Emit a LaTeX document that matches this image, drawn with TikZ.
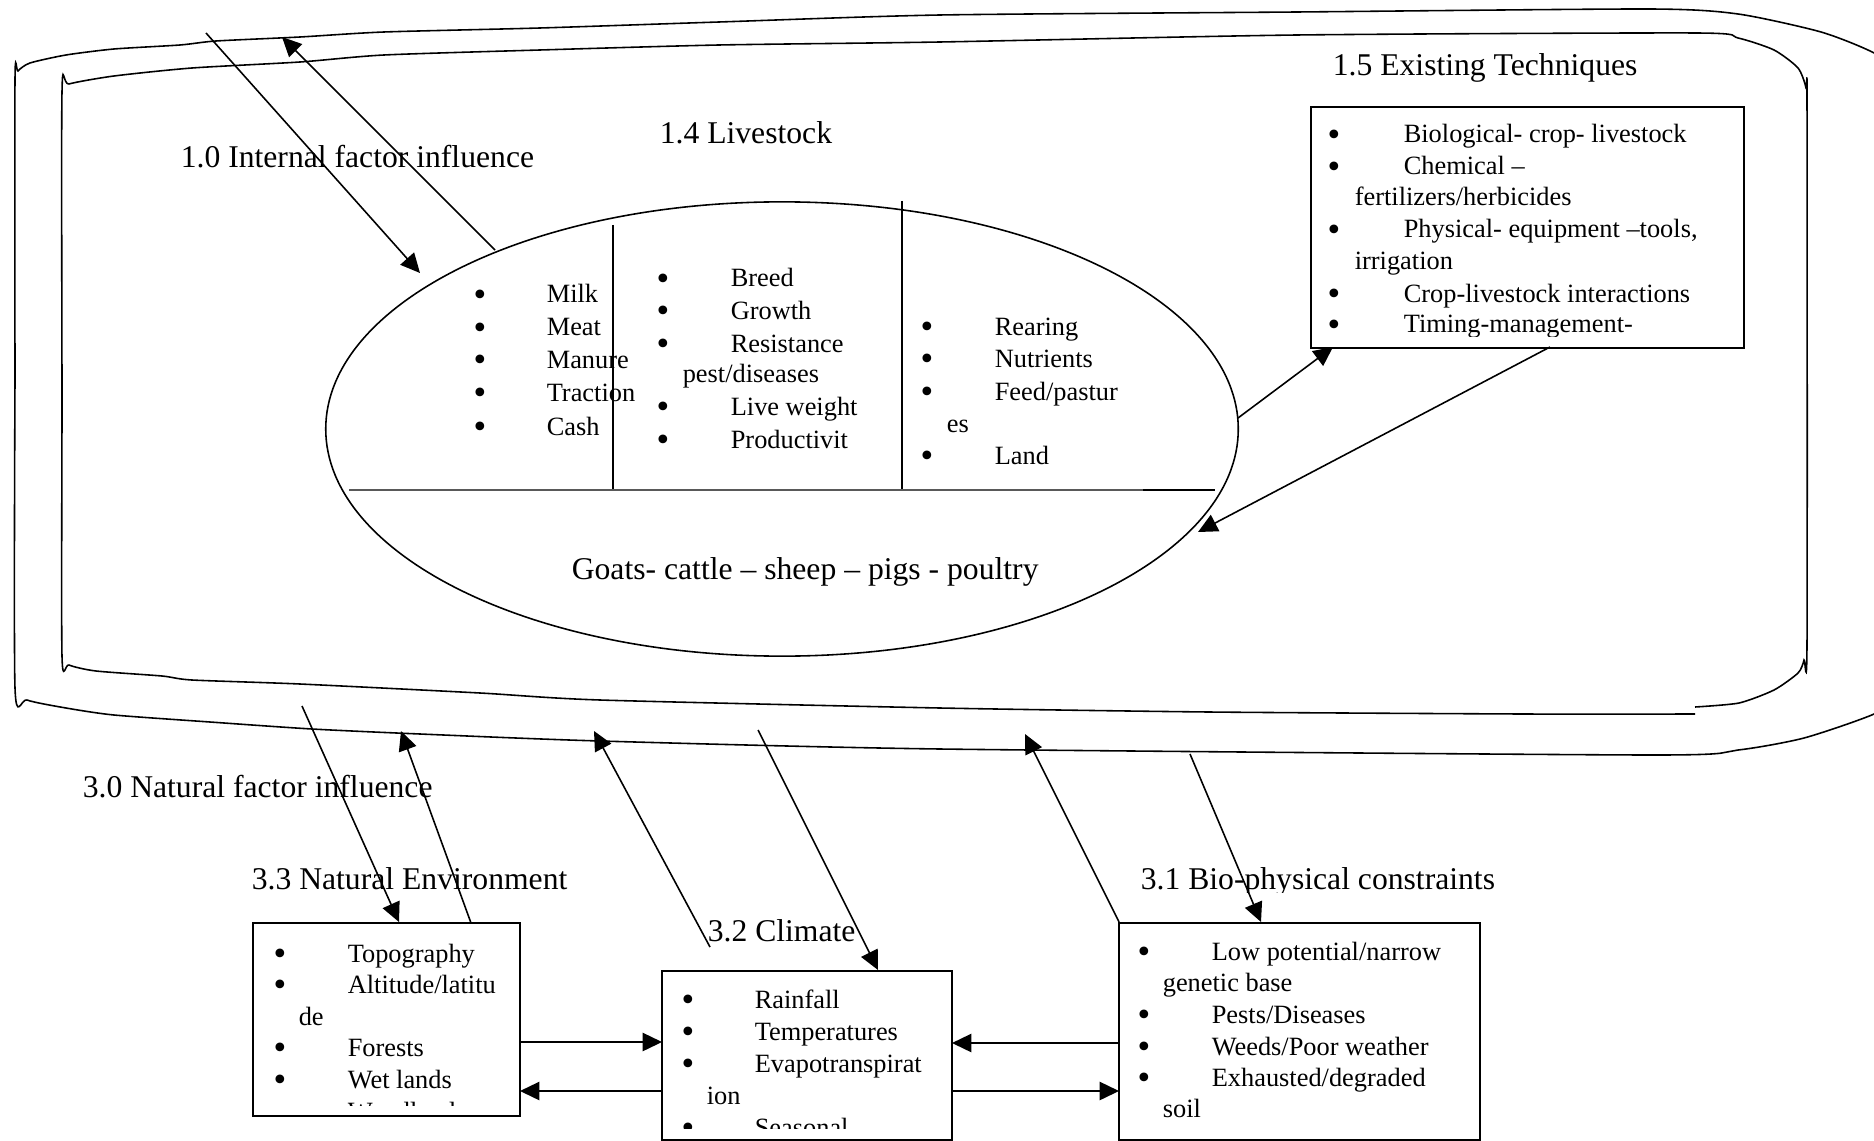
\documentclass[tikz,border=0pt]{standalone}
\usepackage{fontspec}
\setmainfont{Liberation Serif}
\newfontfamily\bulfont{DejaVu Sans}
\usetikzlibrary{shapes,arrows,arrows.meta}

\tikzset{
	lbl/.style={anchor=base west, inner sep=0pt, font=\fontsize{9}{11}\selectfont},
	itm/.style={anchor=base west, inner sep=0pt, font=\fontsize{7.5}{9}\selectfont},
	bul/.style={anchor=base, inner sep=0pt, yshift=-0.6pt, font=\bulfont\fontsize{8.5}{9}\selectfont},
	box/.style={draw, rectangle, inner sep=0pt},
	flow/.style={-{Triangle[length=5.5pt,width=5.2pt]}},
}

\begin{document}
\begin{tikzpicture}[x=0.01cm, y=-0.01cm, line width=0.45pt]
	\clip (0,0) rectangle (1874,1140);
	
	% outer outline (hand drawn)
	\draw plot[smooth, tension=0.4] coordinates {(15,380) (15,80) (18,71) (30,63) (66,55) (114,49) (180,45) (216,41) (300,37) (384,32) (540,28) (719,22) (940,15) (1297,12) (1649,9) (1738,14) (1821,32) (1874,53) (1910,80) (1910,690) (1874,714) (1804,738) (1738,750) (1649,755) (940,749) (600,741) (420,734) (312,729) (210,722) (114,715) (66,708) (27,700) (15,688) (15,380)};
	
	% inner outline, open at bottom right
	\draw plot[smooth, tension=0.4] coordinates {(1695,714) (1524,714) (1209,712) (940,708) (600,700) (480,693) (300,684) (192,680) (162,676) (96,671) (69,665) (62,656) (62,400) (62,92) (69,84) (114,76) (192,68) (300,62) (384,55) (540,50) (719,45) (940,42) (1297,35) (1696,33) (1738,38) (1774,50) (1798,68) (1806,88) (1807,110) (1807,640) (1804,660) (1798,673) (1774,690) (1739,703) (1695,707)};
	
	% labels
	\node[lbl] (internal) at (180,168) {1.0 Internal factor influence};
	\node[lbl] (livestock) at (659,144) {1.4 Livestock};
	\node[lbl] (techniques) at (1332,76) {1.5 Existing Techniques};
	\node[lbl] (natural) at (82,797) {3.0 Natural factor influence};
	\node[lbl] (environment) at (251,889) {3.3 Natural Environment};
	\node[lbl] (climate) at (707,941) {3.2 Climate};
	\begin{scope}
		\clip (1130,850) rectangle (1520,892);
		\node[lbl] (constraints) at (1140,889) {3.1 Bio-physical constraints};
	\end{scope}
	
	% livestock ellipse
	\node[draw, ellipse, minimum width=9.12cm, minimum height=4.54cm, inner sep=0pt] (stock) at (782,429) {};
	\draw (613,225) -- (613,490);
	\draw (902,201) -- (902,490);
	\draw[line width=0.3pt, black!65] (349,490) -- (1143,490);
	\draw (1143,490) -- (1215,490);
	\node[lbl] (kinds) at (571,579) {Goats- cattle -- sheep -- pigs - poultry};
	
	% column 1
	\node[bul] at (480,303) {•}; \node[itm] at (546,303) {Milk};
	\node[bul] at (480,336) {•}; \node[itm] at (546,336) {Meat};
	\node[bul] at (480,368) {•}; \node[itm] at (546,368) {Manure};
	\node[bul] at (480,401) {•}; \node[itm] at (546,401) {Traction};
	\node[bul] at (480,435) {•}; \node[itm] at (546,435) {Cash};
	
	% column 2
	\node[bul] at (663,287) {•}; \node[itm] at (730,287) {Breed};
	\node[bul] at (663,319) {•}; \node[itm] at (730,319) {Growth};
	\node[bul] at (663,352) {•}; \node[itm] at (730,352) {Resistance};
	\node[itm] at (682,383) {pest/diseases};
	\node[bul] at (663,415) {•}; \node[itm] at (730,415) {Live weight};
	\node[bul] at (663,448) {•}; \node[itm] at (730,448) {Productivit};
	
	% column 3
	\node[bul] at (927,335) {•}; \node[itm] at (994,335) {Rearing};
	\node[bul] at (927,367) {•}; \node[itm] at (994,367) {Nutrients};
	\node[bul] at (927,400) {•}; \node[itm] at (994,400) {Feed/pastur};
	\node[itm] at (946,432) {es};
	\node[bul] at (927,464) {•}; \node[itm] at (994,464) {Land};
	
	% 1.5 box
	\node[box, minimum width=4.33cm, minimum height=2.41cm] (tech) at (1527.5,227.5) {};
	\begin{scope}
		\clip (1311,107) rectangle (1744,336);
		\node[bul] at (1334,143) {•}; \node[itm] at (1403,143) {Biological- crop- livestock};
		\node[bul] at (1334,175) {•}; \node[itm] at (1403,175) {Chemical --};
		\node[itm] at (1354,206) {fertilizers/herbicides};
		\node[bul] at (1334,238) {•}; \node[itm] at (1403,238) {Physical- equipment --tools,};
		\node[itm] at (1354,270) {irrigation};
		\node[bul] at (1334,302) {•}; \node[itm] at (1403,302) {Crop-livestock interactions};
		\node[bul] at (1334,333) {•}; \node[itm] at (1403,333) {Timing-management-};
	\end{scope}
	
	% 3.3 box
	\node[box, minimum width=2.67cm, minimum height=1.93cm] (env) at (386.5,1019.5) {};
	\begin{scope}
		\clip (253,923) rectangle (520,1105);
		\node[bul] at (280,962) {•}; \node[itm] at (347,962) {Topography};
		\node[bul] at (280,993) {•}; \node[itm] at (347,993) {Altitude/latitu};
		\node[itm] at (298,1025) {de};
		\node[bul] at (280,1056) {•}; \node[itm] at (347,1056) {Forests};
		\node[bul] at (280,1088) {•}; \node[itm] at (347,1088) {Wet lands};
		\node[bul] at (280,1120) {•}; \node[itm] at (347,1120) {Woodlands};
	\end{scope}
	
	% 3.2 box
	\node[box, minimum width=2.90cm, minimum height=1.69cm] (clim) at (807,1055.5) {};
	\begin{scope}
		\clip (662,971) rectangle (952,1128);
		\node[bul] at (688,1008) {•}; \node[itm] at (754,1008) {Rainfall};
		\node[bul] at (688,1040) {•}; \node[itm] at (754,1040) {Temperatures};
		\node[bul] at (688,1072) {•}; \node[itm] at (754,1072) {Evapotranspirat};
		\node[itm] at (706,1104) {ion};
		\node[bul] at (688,1136) {•}; \node[itm] at (754,1136) {Seasonal};
	\end{scope}
	
	% 3.1 box
	\node[box, minimum width=3.61cm, minimum height=2.17cm] (bio) at (1299.5,1031.5) {};
	\node[bul] at (1144,960) {•}; \node[itm] at (1211,960) {Low potential/narrow};
	\node[itm] at (1162,991) {genetic base};
	\node[bul] at (1144,1023) {•}; \node[itm] at (1211,1023) {Pests/Diseases};
	\node[bul] at (1144,1055) {•}; \node[itm] at (1211,1055) {Weeds/Poor weather};
	\node[bul] at (1144,1086) {•}; \node[itm] at (1211,1086) {Exhausted/degraded};
	\node[itm] at (1162,1117) {soil};
	
	% arrow ends
	\coordinate (A1) at (206,33);   \coordinate (B1) at (420,273);
	\coordinate (A2) at (495,250);  \coordinate (B2) at (282,37);
	\coordinate (A3) at (1238,418); \coordinate (B3) at (1333,347);
	\coordinate (A4) at (1550,347); \coordinate (B4) at (1198,532);
	\coordinate (A5) at (302,706);  \coordinate (B5) at (399,922);
	\coordinate (A6) at (471,923);  \coordinate (B6) at (401,731);
	\coordinate (A7) at (710,947);  \coordinate (B7) at (594,731);
	\coordinate (A8) at (758,730);  \coordinate (B8) at (878,970);
	\coordinate (A9) at (1119,922); \coordinate (B9) at (1025,734);
	\coordinate (A10) at (1190,754); \coordinate (B10) at (1261,922);
	
	% internal arrows
	\draw[flow] (A1) -- (B1);
	\draw[flow] (A2) -- (B2);
	\draw[flow] (A3) -- (B3);
	\draw[flow] (A4) -- (B4);
	
	% natural arrows
	\draw[flow] (A5) -- (B5);
	\draw[flow] (A6) -- (B6);
	\draw[flow] (A7) -- (B7);
	\draw[flow] (A8) -- (B8);
	\draw[flow] (A9) -- (B9);
	\draw[flow] (A10) -- (B10);
	
	% between boxes
	\coordinate (E1) at (520,1042);  \coordinate (C1) at (662,1042);
	\coordinate (C2) at (662,1091);  \coordinate (E2) at (520,1091);
	\coordinate (D1) at (1119,1043); \coordinate (C3) at (952,1043);
	\coordinate (C4) at (952,1091);  \coordinate (D2) at (1119,1091);
	\draw[flow] (E1) -- (C1);
	\draw[flow] (C2) -- (E2);
	\draw[flow] (D1) -- (C3);
	\draw[flow] (C4) -- (D2);
\end{tikzpicture}
\end{document}
